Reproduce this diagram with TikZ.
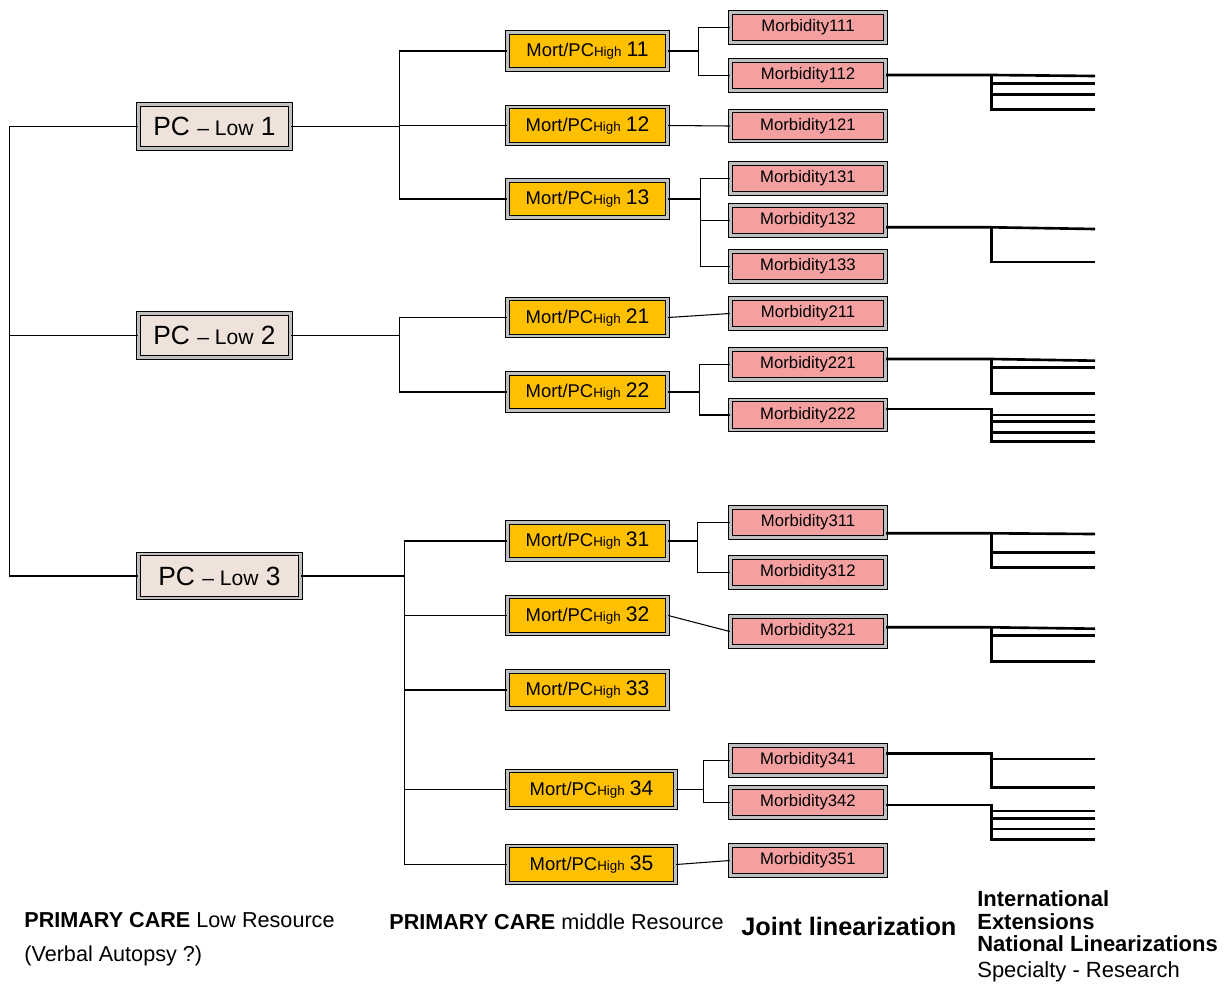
\documentclass[tikz,border=0pt]{standalone}
\usepackage{fontspec}
\setmainfont{Liberation Sans}
\usepackage{tikz}

\definecolor{pcfill}{RGB}{238,226,218}
\definecolor{mortfill}{RGB}{255,192,0}
\definecolor{morbfill}{RGB}{244,160,160}

\tikzset{
  framed/.style={draw=black, double=black!25, double distance=1.2pt, line width=0.8pt, inner sep=0pt},
  pclow/.style={framed, fill=pcfill, minimum width=3.04cm, minimum height=0.88cm, font=\fontsize{15}{18}\selectfont},
  mort/.style={framed, fill=mortfill, minimum width=3.2cm, minimum height=0.74cm, font=\fontsize{10.5}{12}\selectfont},
  morb/.style={framed, fill=morbfill, minimum width=3.1cm, minimum height=0.6cm, font=\fontsize{9.5}{11}\selectfont},
  link/.style={line width=0.6pt},
  fan/.style={line width=1.5pt},
  caption/.style={align=left, anchor=west, inner sep=0pt, font=\fontsize{12.3}{19.3}\selectfont}
}

\newcommand{\pcl}[1]{PC {\fontsize{12}{14}\selectfont\textendash{} Low} #1}
\newcommand{\mph}[1]{Mort/PC{\fontsize{7.6}{9}\selectfont High} {\fontsize{12}{14}\selectfont #1}}

\begin{document}
\begin{tikzpicture}[x=0.02cm, y=-0.02cm]
      \useasboundingbox (0,0) rectangle (1224,988);
      % Define nodes
      \node[pclow]                       (pc1) at (214.5,126.5) {\pcl{1}};
      \node[pclow]                       (pc2) at (214.5,335.5) {\pcl{2}};
      \node[pclow, minimum width=3.24cm] (pc3) at (219.5,576)   {\pcl{3}};

      \node[mort]                       (m11) at (587.5,51)    {\mph{11}};
      \node[mort]                       (m12) at (587.5,125.5) {\mph{12}};
      \node[mort]                       (m13) at (587.5,199)   {\mph{13}};
      \node[mort]                       (m21) at (587.5,317.5) {\mph{21}};
      \node[mort]                       (m22) at (587.5,392)   {\mph{22}};
      \node[mort]                       (m31) at (587.5,541)   {\mph{31}};
      \node[mort]                       (m32) at (587.5,615.5) {\mph{32}};
      \node[mort]                       (m33) at (587.5,690)   {\mph{33}};
      \node[mort, minimum width=3.36cm] (m34) at (591.5,789.5) {\mph{34}};
      \node[mort, minimum width=3.36cm] (m35) at (591.5,864.5) {\mph{35}};

      \node[morb] (b111) at (808,27.5)  {Morbidity111};
      \node[morb] (b112) at (808,75.5)  {Morbidity112};
      \node[morb] (b121) at (808,126)   {Morbidity121};
      \node[morb] (b131) at (808,178.5) {Morbidity131};
      \node[morb] (b132) at (808,220.5) {Morbidity132};
      \node[morb] (b133) at (808,266.5) {Morbidity133};
      \node[morb] (b211) at (808,313.5) {Morbidity211};
      \node[morb] (b221) at (808,364.5) {Morbidity221};
      \node[morb] (b222) at (808,415)   {Morbidity222};
      \node[morb] (b311) at (808,522.5) {Morbidity311};
      \node[morb] (b312) at (808,572.5) {Morbidity312};
      \node[morb] (b321) at (808,631.5) {Morbidity321};
      \node[morb] (b341) at (808,760.5) {Morbidity341};
      \node[morb] (b342) at (808,802.5) {Morbidity342};
      \node[morb] (b351) at (808,860.5) {Morbidity351};

      \node[caption] (lowres) at (24,939) {\textbf{PRIMARY CARE} Low Resource\\(Verbal Autopsy ?)};
      \node[caption] (midres) at (389,922) {\textbf{PRIMARY CARE} middle Resource};
      \node[caption, font=\fontsize{14.4}{17}\selectfont\bfseries] (joint) at (741,926) {Joint linearization};
      \node[caption, font=\fontsize{12.5}{12.8}\selectfont] (natl) at (977,936.5)
        {\textbf{International}\\\textbf{Extensions}\\\textbf{National Linearizations}\\[2pt]Specialty - Research};

      % Connect nodes
      \draw[link] (pc2.west) -- ++(-128,0) coordinate (j0);
      \draw[link] (pc1.west) -| (j0);
      \draw[link] (pc3.west) -| (j0);

      \draw[link] (pc1.east) -- ++(108,0) coordinate (j1);
      \draw[link] (m11.west) -| (j1);
      \draw[link] (m12.west) -| (j1);
      \draw[link] (m13.west) -| (j1);
      \draw[link] (pc2.east) -- ++(108,0) coordinate (j2);
      \draw[link] (m21.west) -| (j2);
      \draw[link] (m22.west) -| (j2);
      \draw[link] (pc3.east) -- ++(103,0) coordinate (j3);
      \draw[link] (m31.west) -| (j3);
      \draw[link] (m32.west) -| (j3);
      \draw[link] (m33.west) -| (j3);
      \draw[link] (m34.west) -| (j3);
      \draw[link] (m35.west) -| (j3);

      \draw[link] (m11.east) -- ++(30,0) coordinate (j11);
      \draw[link] (b111.west) -| (j11);
      \draw[link] (b112.west) -| (j11);
      \draw[link] (m12.east) -- (b121.west);
      \draw[link] (m13.east) -- ++(32,0) coordinate (j13);
      \draw[link] (b131.west) -| (j13);
      \draw[link] (b132.west) -| (j13);
      \draw[link] (b133.west) -| (j13);
      \draw[link] (m21.east) -- (b211.west);
      \draw[link] (m22.east) -- ++(31,0) coordinate (j22);
      \draw[link] (b221.west) -| (j22);
      \draw[link] (b222.west) -| (j22);
      \draw[link] (m31.east) -- ++(29,0) coordinate (j31);
      \draw[link] (b311.west) -| (j31);
      \draw[link] (b312.west) -| (j31);
      \draw[link] (m32.east) -- (b321.west);
      \draw[link] (m34.east) -- ++(27,0) coordinate (j34);
      \draw[link] (b341.west) -| (j34);
      \draw[link] (b342.west) -| (j34);
      \draw[link] (m35.east) -- (b351.west);

      % Fan out to the right
      \draw[fan] (b112.east) ++(0,-0.5) -- ++(105,0) coordinate (k112) -- ++(104,1);
      \draw[fan] (k112) -- ++(0,34.3) -- ++(104,0);
      \draw[fan] (k112) ++(0,8.3) -- ++(104,0);
      \draw[fan] (k112) ++(0,19.7) -- ++(104,0);

      \draw[fan] (b132.east) ++(0,6.8) -- ++(105,0) coordinate (k132) -- ++(104,1.7);
      \draw[fan] (k132) -- ++(0,34.7) -- ++(104,0);

      \draw[fan] (b221.east) ++(0,-5.5) -- ++(105,0) coordinate (k221) -- ++(104,1.7);
      \draw[fan] (k221) -- ++(0,34.3) -- ++(104,0);
      \draw[fan] (k221) ++(0,8.7) -- ++(104,0);

      \draw[fan] (b222.east) ++(0,-6) -- ++(105,0) coordinate (k222) -- ++(0,32.7) -- ++(104,0);
      \draw[fan] (k222) ++(0,6) -- ++(104,0);
      \draw[fan] (k222) ++(0,12.7) -- ++(104,0);
      \draw[fan] (k222) ++(0,23.3) -- ++(104,0);

      \draw[fan] (b311.east) ++(0,10.8) -- ++(105,0) coordinate (k311) -- ++(104,0.7);
      \draw[fan] (k311) -- ++(0,34.4) -- ++(104,0);
      \draw[fan] (k311) ++(0,19.4) -- ++(104,0);

      \draw[fan] (b321.east) ++(0,-4.2) -- ++(105,0) coordinate (k321) -- ++(104,1.4);
      \draw[fan] (k321) -- ++(0,34.4) -- ++(104,0);
      \draw[fan] (k321) ++(0,8.4) -- ++(104,0);

      \draw[fan] (b341.east) ++(0,-7.2) -- ++(105,0) coordinate (k341) -- ++(0,34.4) -- ++(104,0);
      \draw[fan] (k341) ++(0,5.7) -- ++(104,0);

      \draw[fan] (b342.east) ++(0,2.5) -- ++(105,0) coordinate (k342) -- ++(0,34.3) -- ++(104,0);
      \draw[fan] (k342) ++(0,6) -- ++(104,0);
      \draw[fan] (k342) ++(0,13.3) -- ++(104,0);
      \draw[fan] (k342) ++(0,24) -- ++(104,0);
    \end{tikzpicture}
\end{document}
